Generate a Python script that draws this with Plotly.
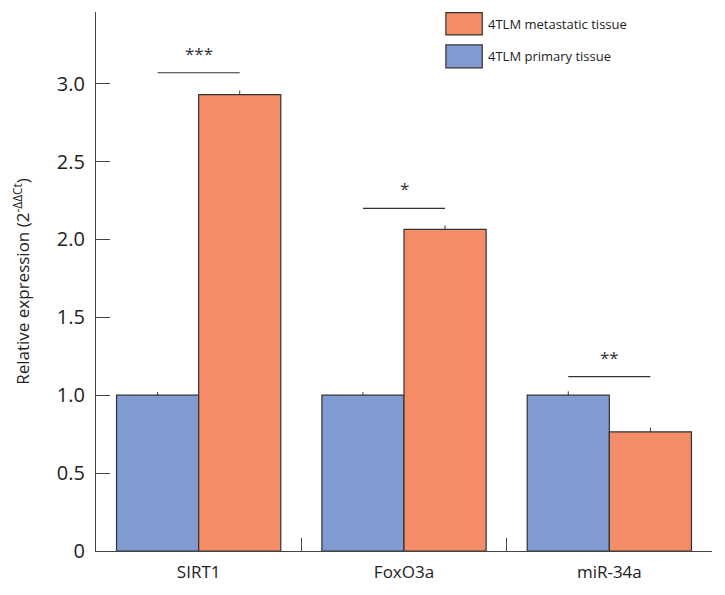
import plotly.graph_objects as go

categories = ["SIRT1", "FoxO3a", "miR-34a"]
series_names = ["4TLM primary tissue", "4TLM metastatic tissue"]
primary = [1.0, 1.0, 1.0]
primary_err = [0.02, 0.02, 0.025]
metastatic = [2.93, 2.065, 0.765]
metastatic_err = [0.025, 0.025, 0.027]
sig_labels = ["***", "*", "**"]
sig_heights = [3.07, 2.20, 1.12]
y_tickvals = [0, 0.5, 1.0, 1.5, 2.0, 2.5, 3.0]
y_ticktext = ["0", "0.5", "1.0", "1.5", "2.0", "2.5", "3.0"]

blue = "#7F9BD1"
orange = "#F58C68"
edge = "#333333"
axis_col = "#444444"
font_family = "Open Sans"

fig = go.Figure()
fig.add_trace(go.Bar(
    x=categories, y=primary, name=series_names[0],
    marker=dict(color=blue, line=dict(color=edge, width=1.2)),
    error_y=dict(type="data", array=primary_err, arrayminus=[0]*3, symmetric=False,
                 width=0, thickness=1, color=edge),
))
fig.add_trace(go.Bar(
    x=categories, y=metastatic, name=series_names[1],
    marker=dict(color=orange, line=dict(color=edge, width=1.2)),
    error_y=dict(type="data", array=metastatic_err, arrayminus=[0]*3, symmetric=False,
                 width=0, thickness=1, color=edge),
))

# significance brackets
for i, (lab, h) in enumerate(zip(sig_labels, sig_heights)):
    fig.add_shape(type="line", xref="x", yref="y", x0=i - 0.2, x1=i + 0.2, y0=h, y1=h,
                  line=dict(color=edge, width=1.2))
    fig.add_annotation(x=i, y=h, xref="x", yref="y", text=lab, showarrow=False,
                       yanchor="bottom", yshift=6, font=dict(size=17, color="#333", family=font_family))

# custom legend
legend_items = [(series_names[1], orange, 0.9575, 0.999), (series_names[0], blue, 0.8965, 0.939)]
for name, col, y0, y1 in legend_items:
    fig.add_shape(type="rect", xref="paper", yref="paper", x0=0.568, x1=0.627, y0=y0, y1=y1,
                  fillcolor=col, line=dict(color=edge, width=1.2))
    fig.add_annotation(xref="paper", yref="paper", x=0.633, y=(y0 + y1) / 2, text=name,
                       showarrow=False, xanchor="left", yanchor="middle",
                       font=dict(size=13, color="#222", family=font_family))

fig.update_layout(
    width=725, height=595,
    margin=dict(l=96, r=13, t=12, b=42),
    plot_bgcolor="white", paper_bgcolor="white",
    barmode="group", bargap=0.2, bargroupgap=0,
    showlegend=False,
    font=dict(family=font_family, color="#222"),
    xaxis=dict(
        showline=True, linecolor=axis_col, linewidth=1.3,
        ticks="inside", tickson="boundaries", ticklen=13, tickcolor=axis_col, tickwidth=1.3,
        tickfont=dict(size=17, color="#222"), ticklabelstandoff=5,
        showgrid=False, zeroline=False,
    ),
    yaxis=dict(
        range=[0, 3.46], showline=True, linecolor=axis_col, linewidth=1.3,
        ticks="inside", ticklen=14, tickcolor=axis_col, tickwidth=1.3,
        tickvals=y_tickvals, ticktext=y_ticktext, ticklabelstandoff=6,
        tickfont=dict(size=20, color="#222"), showgrid=False, zeroline=False,
        title=dict(text="Relative expression (2<sup>-ΔΔCt</sup>)", font=dict(size=17, color="#222"),
                   standoff=22),
    ),
)

fig.write_html("out.html")
